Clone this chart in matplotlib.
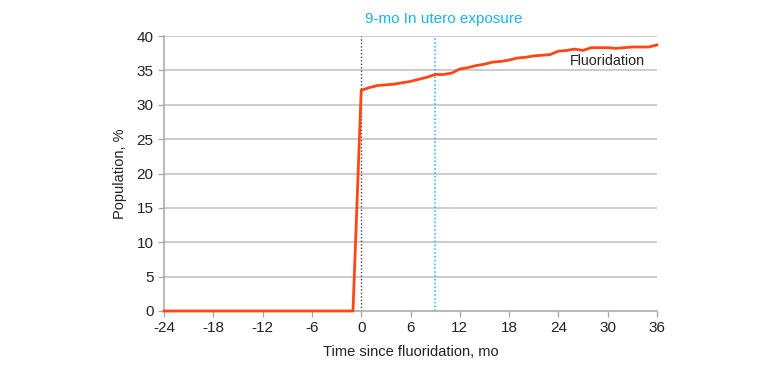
import numpy as np
import matplotlib.pyplot as plt

plt.rcParams['font.family'] = ['Liberation Sans', 'DejaVu Sans']
plt.rcParams['axes.unicode_minus'] = False

months = list(range(-24, 37))
pre = [0.0] * 24  # months -24..-1
post = [32.1, 32.5, 32.8, 32.9, 33.0, 33.2, 33.4, 33.7, 34.0, 34.4,
        34.4, 34.6, 35.2, 35.4, 35.7, 35.9, 36.2, 36.3, 36.5, 36.8,
        36.9, 37.1, 37.2, 37.3, 37.8, 37.9, 38.1, 37.9, 38.3, 38.3,
        38.3, 38.2, 38.3, 38.4, 38.4, 38.4, 38.7]
population = pre + post
xticks = list(range(-24, 37, 6))
yticks = list(range(0, 41, 5))

fig = plt.figure(figsize=(7.8, 3.66), dpi=100)
ax = fig.add_axes([164/780, 55/366, 493/780, 275/366])

grey = '#a6a6a6'
for y in yticks[1:]:
    ax.axhline(y, color='#bfbfbf', lw=1.1, zorder=0)
ax.plot([0, 0], [0, 40], color='#444444', lw=1.0, ls=(0, (1, 1.5)), zorder=1)
ax.plot([9, 9], [0, 40], color='#18b4ec', lw=1.1, ls=(0, (1, 1.5)), zorder=1)
ax.plot(months, population, color='#ff4715', lw=2, zorder=3, clip_on=False)

ax.set_xlim(-24, 36)
ax.set_ylim(0, 40)
ax.set_xticks(xticks)
ax.set_yticks(yticks)
ax.tick_params(colors='#222222', labelsize=11, length=4, width=0.9)
ax.tick_params(axis='both', color=grey)
for s in ['top', 'right']:
    ax.spines[s].set_visible(False)
for s in ['left', 'bottom']:
    ax.spines[s].set_color(grey)
    ax.spines[s].set_linewidth(1.1)

ax.set_xlabel('Time since fluoridation, mo', fontsize=10.5, color='#222222', labelpad=7)
ax.set_ylabel('Population, %', fontsize=10.5, color='#222222', labelpad=7)

ax.text(0.45, 41.5, '9-mo In utero exposure', color='#18b4ec', fontsize=11,
        ha='left', va='bottom')
ax.text(25.4, 36.4, 'Fluoridation', color='#222222', fontsize=10.3,
        ha='left', va='center')

fig.savefig('out.png', dpi=100)
